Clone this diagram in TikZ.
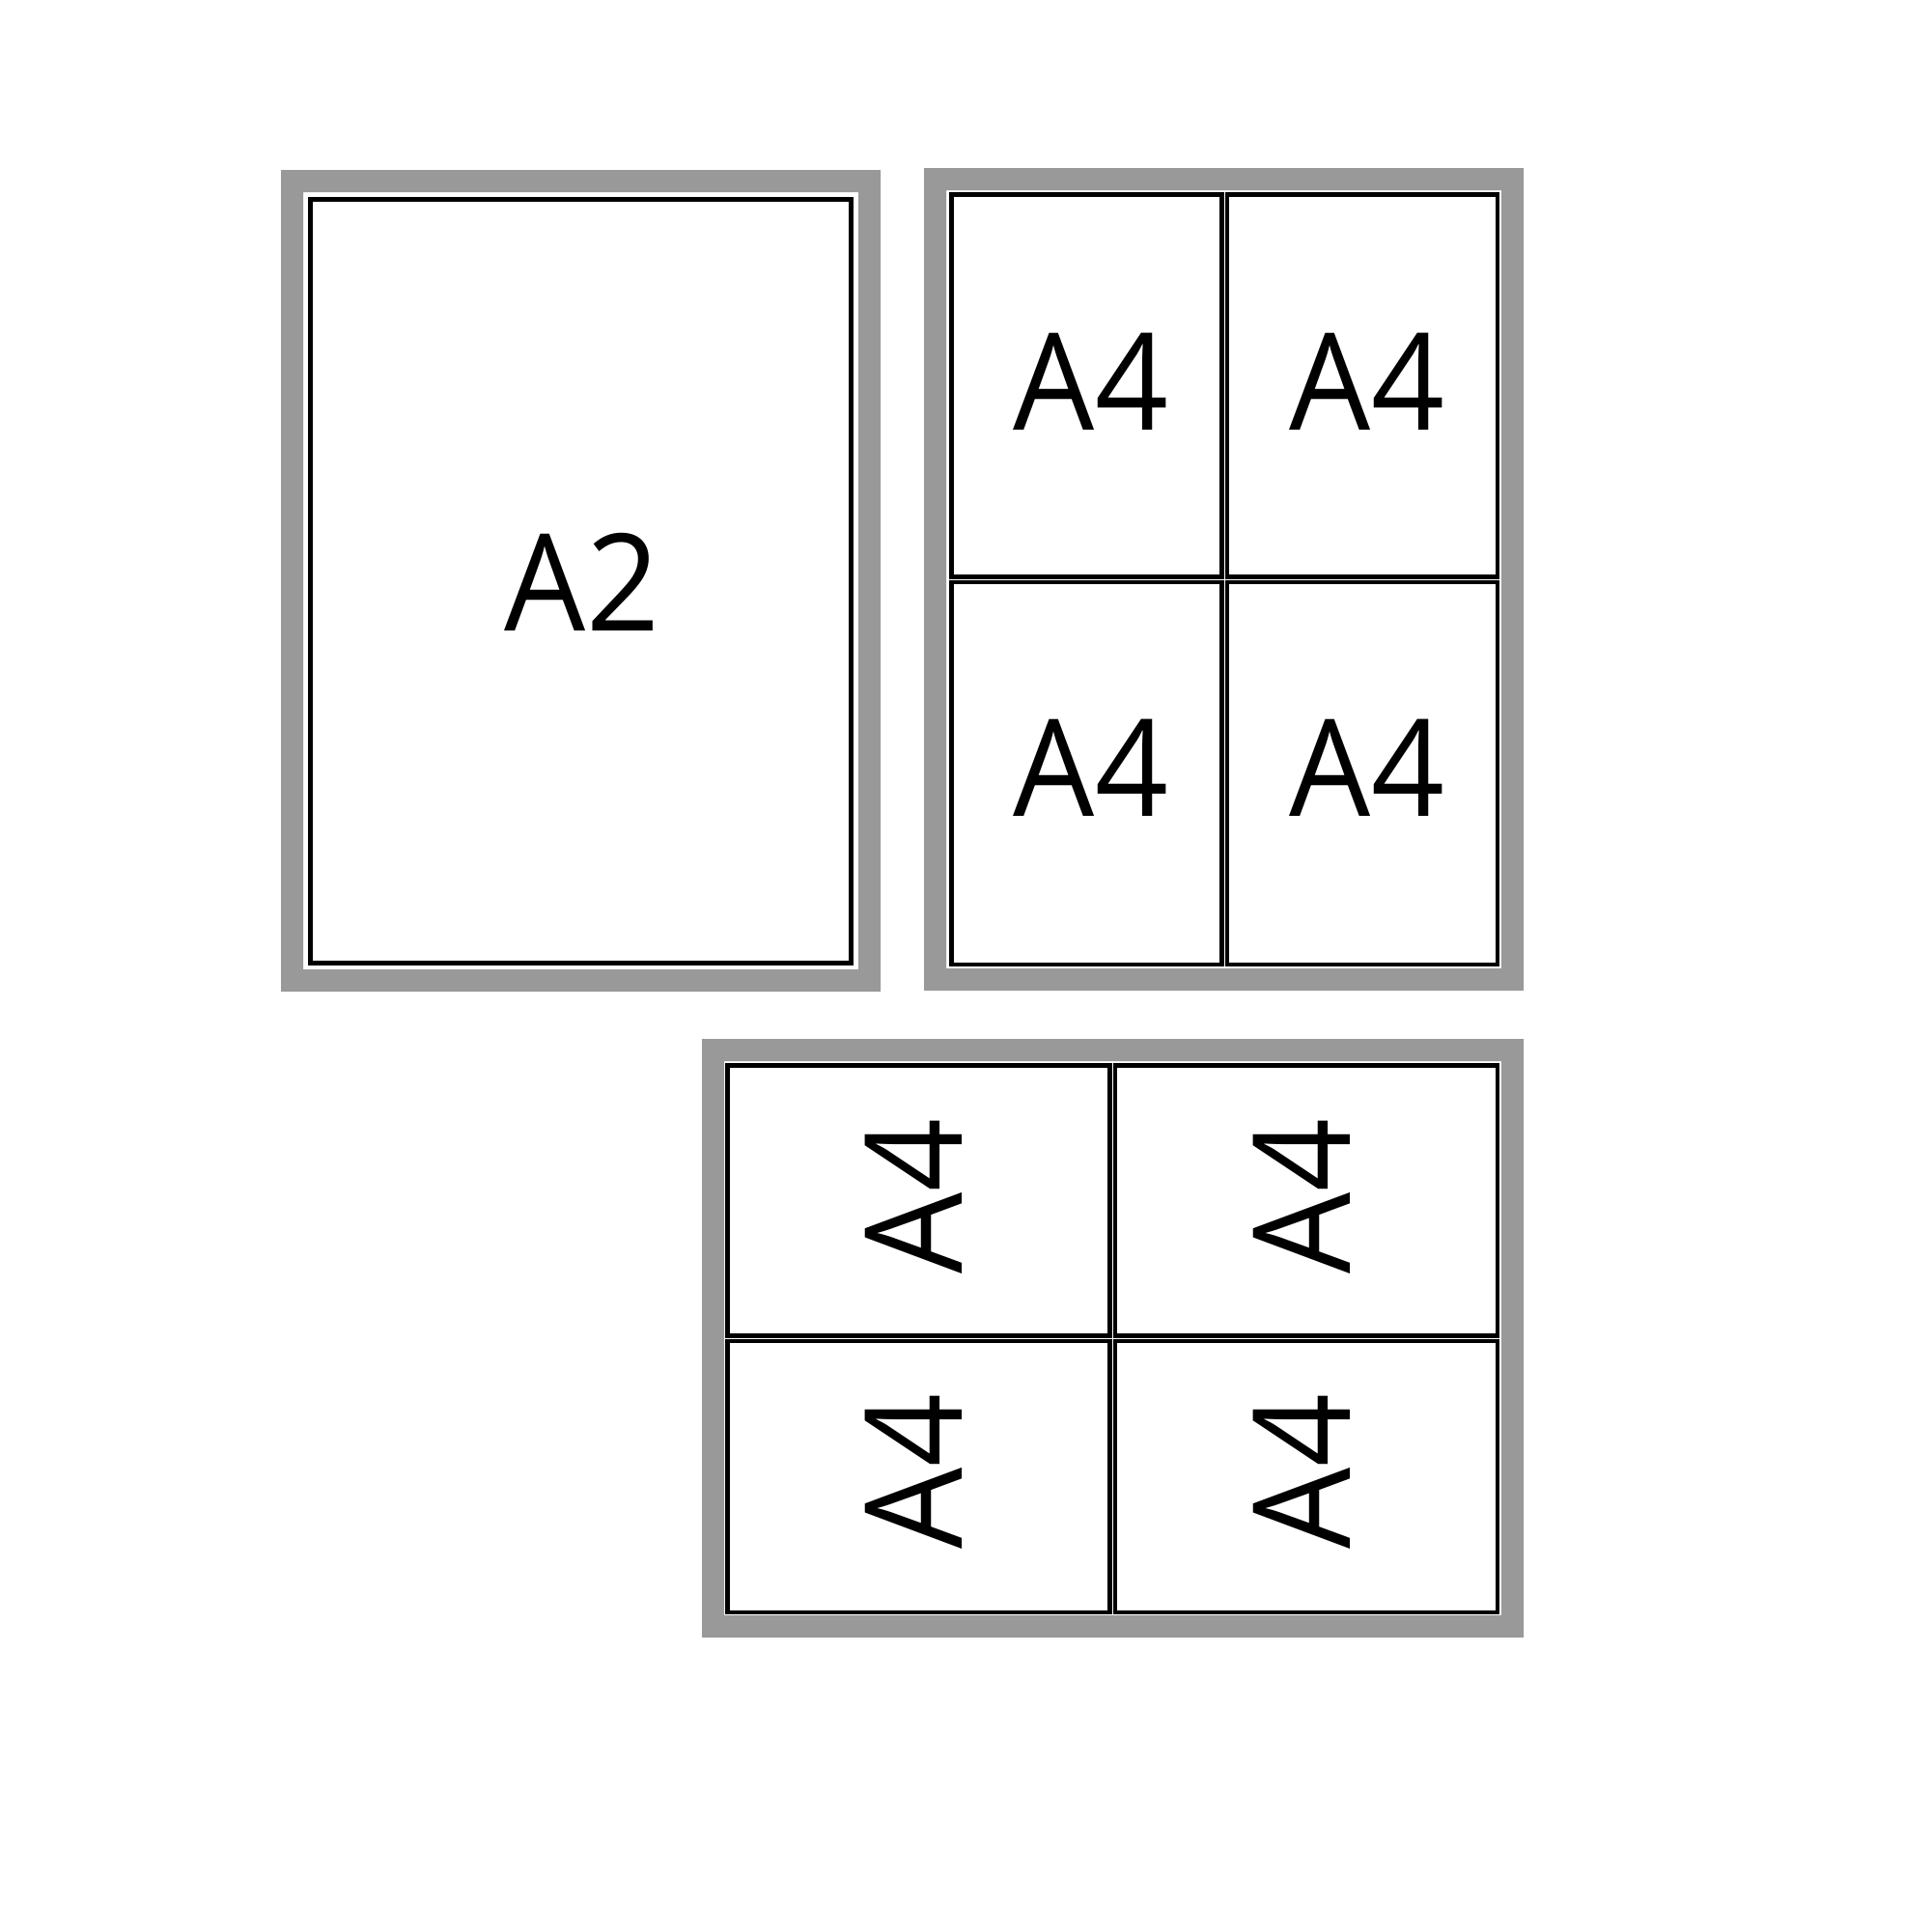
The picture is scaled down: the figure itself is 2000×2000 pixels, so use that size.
\documentclass[tikz,border=0pt]{standalone}
\usepackage{fontspec}
\setmainfont[FakeStretch=0.95]{Open Sans}
\definecolor{framegray}{RGB}{153,153,153}
\begin{document}
\begin{tikzpicture}[x=0.1mm,y=-0.1mm,
  frame/.style={fill=framegray,even odd rule},
  page/.style={draw=black,line width=0.45mm,fill=white},
  label/.style={inner sep=0pt,font=\fontsize{39.8}{48}\selectfont}]
\useasboundingbox (0,0) rectangle (2000,2000);
\fill[white] (0,0) rectangle (2000,2000);
% panel 1
\fill[frame] (291,176) rectangle (912,1027) (314,199) rectangle (889,1004);
\draw[page,line width=0.5mm] (321.5,206.5) rectangle (881.5,997.5);
\node[label] (a2) at (603,603) {A2};
% panel 2
\fill[frame] (957,174) rectangle (1578,1026) (980,197) rectangle (1555,1003);
\draw[page] (985.25,201.25) rectangle (1265.25,597.25);
\draw[page] (1270.75,201.25) rectangle (1550.75,597.25);
\draw[page] (985.25,602.75) rectangle (1265.25,998.75);
\draw[page] (1270.75,602.75) rectangle (1550.75,998.75);
\node[label] (p2a) at (1130,395) {A4};
\node[label] (p2b) at (1416,395) {A4};
\node[label] (p2c) at (1130,795) {A4};
\node[label] (p2d) at (1416,795) {A4};
% panel 3
\fill[frame] (727,1076) rectangle (1578,1696) (750,1099) rectangle (1555,1673);
\draw[page] (753.25,1103.25) rectangle (1149.25,1383.25);
\draw[page] (1154.75,1103.25) rectangle (1550.75,1383.25);
\draw[page] (753.25,1388.75) rectangle (1149.25,1669.75);
\draw[page] (1154.75,1388.75) rectangle (1550.75,1669.75);
\node[label,rotate=90] (p3a) at (946,1239) {A4};
\node[label,rotate=90] (p3b) at (1348,1239) {A4};
\node[label,rotate=90] (p3c) at (946,1524) {A4};
\node[label,rotate=90] (p3d) at (1348,1524) {A4};
\end{tikzpicture}
\end{document}
